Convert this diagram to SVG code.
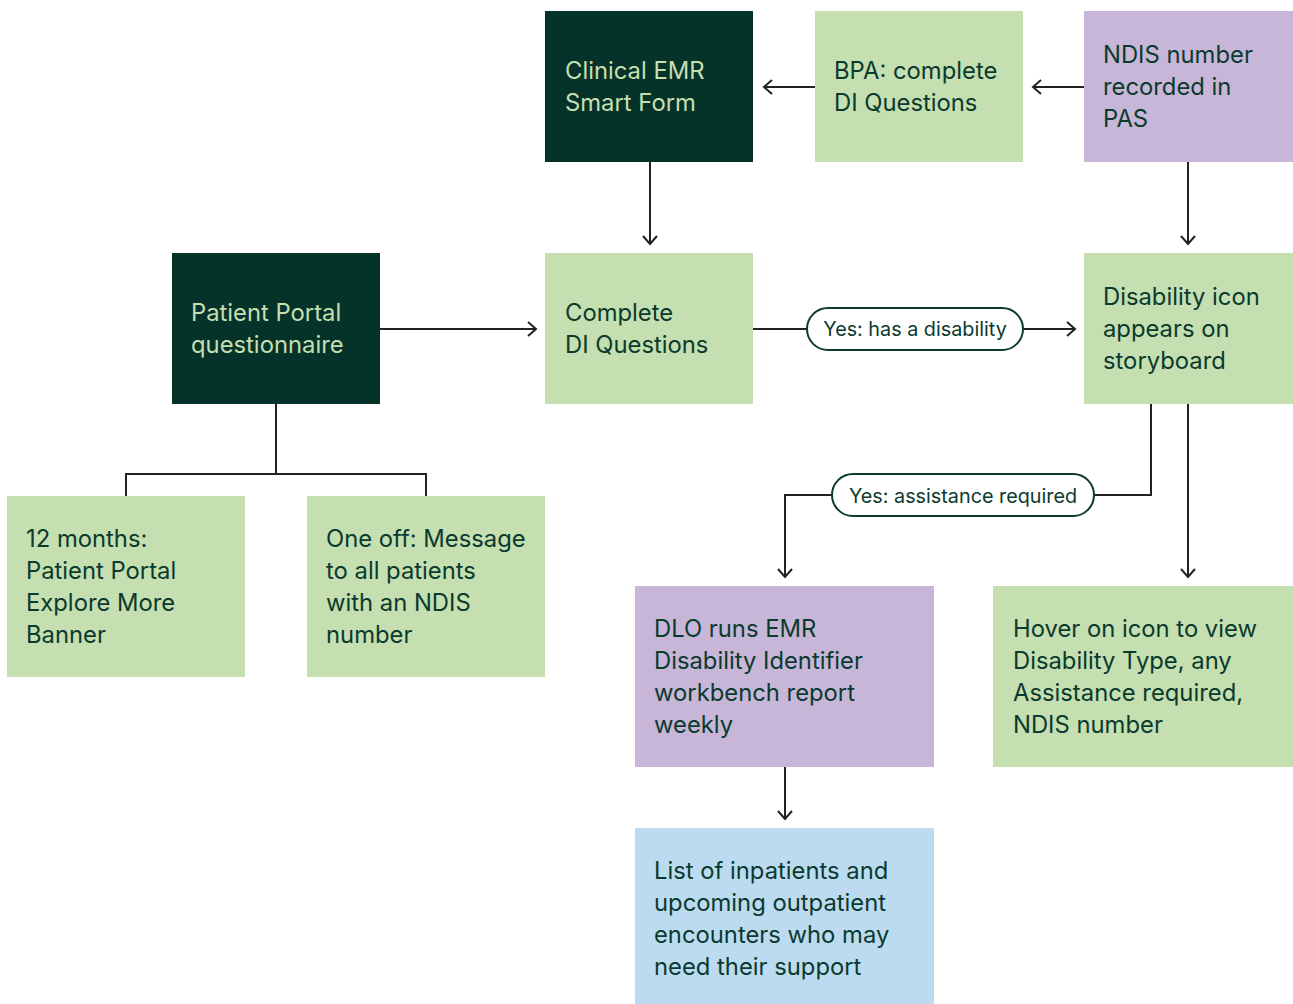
<svg xmlns="http://www.w3.org/2000/svg" width="1293" height="1004" viewBox="0 0 1293 1004">
<defs>
<style>
.dark{fill:#05332a}
.light{fill:#c5dfb0}
.purple{fill:#c8b6d8}
.blue{fill:#bddbf0}
text{font-family:Inter,"Noto Sans","Liberation Sans",sans-serif;font-size:23.8px;fill:#0b3a2e}
.dark-t{fill:#c5dfb0}
.conn{fill:none;stroke:#222;stroke-width:2}
.pill{fill:#fff;stroke:#0b3a2e;stroke-width:2}
.pt{font-size:19.8px;text-anchor:middle}
</style>
<marker id="arr" markerWidth="16" markerHeight="16" refX="9" refY="8" orient="auto" markerUnits="userSpaceOnUse">
<path d="M1,1 L9,8 L1,15" fill="none" stroke="#222" stroke-width="2"/>
</marker>
</defs>
<rect width="1293" height="1004" fill="#fff"/>
<g id="connectors">
<path class="conn" d="M815,87 H764" marker-end="url(#arr)"/>
<path class="conn" d="M1084,87 H1033" marker-end="url(#arr)"/>
<path class="conn" d="M650,162 V244" marker-end="url(#arr)"/>
<path class="conn" d="M1188,162 V244" marker-end="url(#arr)"/>
<path class="conn" d="M380,329 H536" marker-end="url(#arr)"/>
<path class="conn" d="M753,329 H1075" marker-end="url(#arr)"/>
<path class="conn" d="M276,404 V474 M126,496 V474 H426 V496"/>
<path class="conn" d="M1151,404 V495 H785 V577" marker-end="url(#arr)"/>
<path class="conn" d="M1188,404 V577" marker-end="url(#arr)"/>
<path class="conn" d="M785,767 V819" marker-end="url(#arr)"/>
<rect class="pill" x="807" y="308" width="216" height="42" rx="21"/>
<text class="pt" x="915" y="336">Yes: has a disability</text>
<rect class="pill" x="832" y="474" width="262" height="42" rx="21"/>
<text class="pt" x="963" y="503">Yes: assistance required</text>
</g>
<g id="clinical-emr">
<rect class="dark" x="545" y="11" width="208" height="151"/>
<text class="dark-t" x="565" y="79">Clinical EMR</text>
<text class="dark-t" x="565" y="111">Smart Form</text>
</g>
<g id="bpa">
<rect class="light" x="815" y="11" width="208" height="151"/>
<text x="834" y="79">BPA: complete</text>
<text x="834" y="111">DI Questions</text>
</g>
<g id="ndis-pas">
<rect class="purple" x="1084" y="11" width="209" height="151"/>
<text x="1103" y="63">NDIS number</text>
<text x="1103" y="95">recorded in</text>
<text x="1103" y="127">PAS</text>
</g>
<g id="patient-portal">
<rect class="dark" x="172" y="253" width="208" height="151"/>
<text class="dark-t" x="191" y="321">Patient Portal</text>
<text class="dark-t" x="191" y="353">questionnaire</text>
</g>
<g id="complete-di">
<rect class="light" x="545" y="253" width="208" height="151"/>
<text x="565" y="321">Complete</text>
<text x="565" y="353">DI Questions</text>
</g>
<g id="disability-icon">
<rect class="light" x="1084" y="253" width="209" height="151"/>
<text x="1103" y="305">Disability icon</text>
<text x="1103" y="337">appears on</text>
<text x="1103" y="369">storyboard</text>
</g>
<g id="twelve-months">
<rect class="light" x="7" y="496" width="238" height="181"/>
<text x="26" y="547">12 months:</text>
<text x="26" y="579">Patient Portal</text>
<text x="26" y="611">Explore More</text>
<text x="26" y="643">Banner</text>
</g>
<g id="one-off">
<rect class="light" x="307" y="496" width="238" height="181"/>
<text x="326" y="547">One off: Message</text>
<text x="326" y="579">to all patients</text>
<text x="326" y="611">with an NDIS</text>
<text x="326" y="643">number</text>
</g>
<g id="dlo-report">
<rect class="purple" x="635" y="586" width="299" height="181"/>
<text x="654" y="637">DLO runs EMR</text>
<text x="654" y="669">Disability Identifier</text>
<text x="654" y="701">workbench report</text>
<text x="654" y="733">weekly</text>
</g>
<g id="hover-icon">
<rect class="light" x="993" y="586" width="300" height="181"/>
<text x="1013" y="637">Hover on icon to view</text>
<text x="1013" y="669">Disability Type, any</text>
<text x="1013" y="701">Assistance required,</text>
<text x="1013" y="733">NDIS number</text>
</g>
<g id="inpatient-list">
<rect class="blue" x="635" y="828" width="299" height="176"/>
<text x="654" y="879">List of inpatients and</text>
<text x="654" y="911">upcoming outpatient</text>
<text x="654" y="943">encounters who may</text>
<text x="654" y="975">need their support</text>
</g>
</svg>
